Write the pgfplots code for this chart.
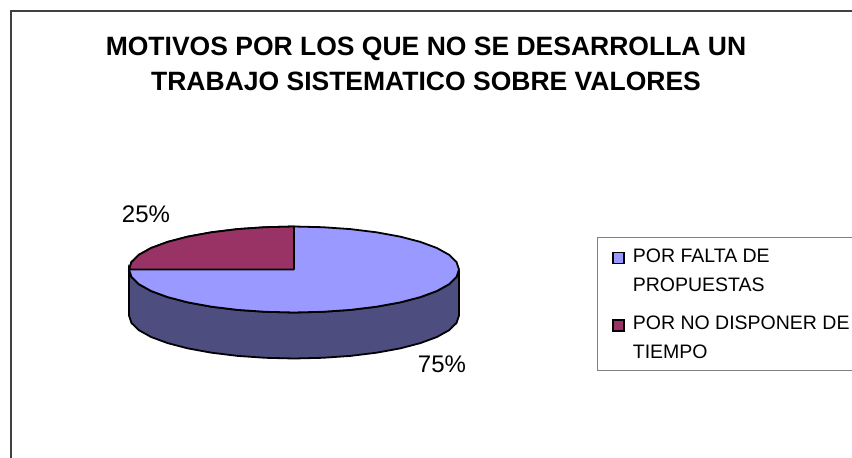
\documentclass[border=0pt]{standalone}
\usepackage{fontspec}
\setmainfont{Liberation Sans}
\usepackage{pgfplots}
\pgfplotsset{compat=1.18}

\definecolor{piea}{HTML}{9999FF}
\definecolor{pieb}{HTML}{993366}
\definecolor{pieside}{HTML}{4D4D80}
\definecolor{frame}{HTML}{404040}

\begin{document}
\begin{tikzpicture}
\clip (0pt,0pt) rectangle (852pt,458pt);
\begin{axis}[
    at={(0pt,0pt)}, anchor=south west,
    scale only axis,
    width=852pt, height=458pt,
    xmin=0, xmax=852, ymin=0, ymax=458,
    y dir=reverse,
    hide axis,
    legend style={
        at={(axis cs:597,237)}, anchor=north west,
        draw=gray, line width=0.9pt,
        font=\fontsize{19.5}{28.5}\selectfont,
        nodes={text depth=},
        cells={anchor=base west},
        inner xsep=15pt, inner ysep=9.5pt,
        row sep=21pt, column sep=6pt,
    },
]
% chart frame, runs off the page on the right and at the bottom
\addplot[frame, line width=1.8pt, forget plot] coordinates {(11,470) (11,11) (870,11)};

% side of the pie
\addplot[fill=pieside, draw=black, line width=1.8pt, forget plot] coordinates {
    (459,269.5) (456.5,277.0) (449.1,284.2) (436.9,291.0) (420.4,297.1) (400.1,302.4)
    (376.5,306.7) (350.4,309.9) (322.6,311.8) (294,312.5) (265.4,311.8) (237.6,309.9)
    (211.5,306.7) (187.9,302.4) (167.6,297.1) (151.1,291.0) (138.9,284.2) (131.5,277.0)
    (129,269.5)
    (129,315.5) (131.5,323.0) (138.9,330.2) (151.1,337.0) (167.6,343.1) (187.9,348.4)
    (211.5,352.7) (237.6,355.9) (265.4,357.8) (294,358.5) (322.6,357.8) (350.4,355.9)
    (376.5,352.7) (400.1,348.4) (420.4,343.1) (436.9,337.0) (449.1,330.2) (456.5,323.0)
    (459,315.5) (459,269.5)
};

% 75% slice (whole top, the other slice goes over it)
\addplot[fill=piea, draw=black, line width=1.8pt,
    legend image code/.code={
        \draw[fill=piea,draw=black,line width=1.4pt] (0pt,-1pt) rectangle (11pt,10pt);}]
    coordinates {
    (459,269.5) (456.5,277.0) (449.1,284.2) (436.9,291.0) (420.4,297.1) (400.1,302.4)
    (376.5,306.7) (350.4,309.9) (322.6,311.8) (294,312.5) (265.4,311.8) (237.6,309.9)
    (211.5,306.7) (187.9,302.4) (167.6,297.1) (151.1,291.0) (138.9,284.2) (131.5,277.0)
    (129,269.5) (131.5,262.0) (138.9,254.8) (151.1,248.0) (167.6,241.9) (187.9,236.6)
    (211.5,232.3) (237.6,229.1) (265.4,227.2) (294,226.5) (322.6,227.2) (350.4,229.1)
    (376.5,232.3) (400.1,236.6) (420.4,241.9) (436.9,248.0) (449.1,254.8) (456.5,262.0)
    (459,269.5)
};
\addlegendentry{\parbox[t]{225pt}{POR FALTA DE\\PROPUESTAS}}

% 25% slice
\addplot[fill=pieb, draw=black, line width=1.8pt,
    legend image code/.code={
        \draw[fill=pieb,draw=black,line width=1.4pt] (0pt,-1pt) rectangle (11pt,10pt);}]
    coordinates {
    (294,269.5) (129,269.5) (131.5,262.0) (138.9,254.8) (151.1,248.0) (167.6,241.9)
    (187.9,236.6) (211.5,232.3) (237.6,229.1) (265.4,227.2) (294,226.5) (294,269.5)
};
\addlegendentry{\parbox[t]{225pt}{POR NO DISPONER DE\\TIEMPO}}

\node[anchor=base, font=\fontsize{24}{28}\selectfont] at (axis cs:146,222.5) {25\%};
\node[anchor=base, font=\fontsize{24}{28}\selectfont] at (axis cs:442,372.5) {75\%};
\node[anchor=base, align=center, font=\fontsize{26.5}{35}\selectfont\bfseries] at (axis cs:426,90)
    {MOTIVOS POR LOS QUE NO SE DESARROLLA UN\\TRABAJO SISTEMATICO SOBRE VALORES};
\end{axis}
\end{tikzpicture}
\end{document}
